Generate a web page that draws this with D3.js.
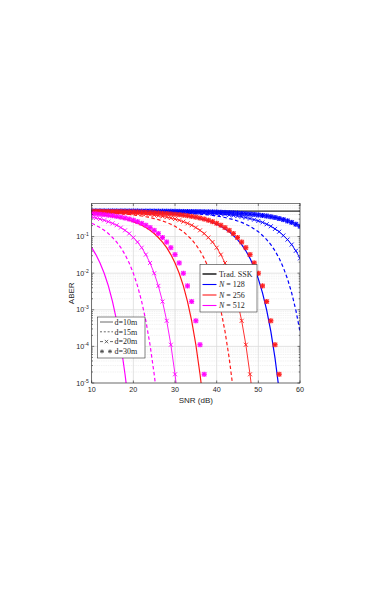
<!DOCTYPE html>
<html><head><meta charset="utf-8">
<script src="https://cdn.jsdelivr.net/npm/d3@7"></script>
<style>html,body{margin:0;padding:0;background:#fff;} svg{display:block}</style>
</head><body><svg id="c" width="382" height="599"></svg>
<script>
// ---------- data ----------
const snr = [10,11,12,13,14,15,16,17,18,19,20,21,22,23,24,25,26,27,28,29,30,31,32,33,34,35,36,37,38,39,40,41,42,43,44,45,46,47,48,49,50,51,52,53,54,55,56,57,58,59,60];
const xTicks = [10,20,30,40,50,60];
const yTicks = [1e-5,1e-4,1e-3,1e-2,1e-1];
const yTickExp = ["-5","-4","-3","-2","-1"];

const tradSnr = [10,20,30,40,50,60];
const tradAber = [0.5,0.5,0.499,0.498,0.496,0.494];

// N = 512 (magenta)
const m512_d10 = [0.0497,0.0322,0.0190,0.00995,0.00449,0.00168,5.0e-4,1.11e-4,1.73e-5,2.0e-6];
const m512_d15 = [0.230,0.204,0.176,0.148,0.121,0.0942,0.0708,0.0497,0.0322,0.0190,0.00995,0.00449,0.00168,5.0e-4,1.11e-4,1.73e-5,2.0e-6];
const m512_d20 = [0.340,0.321,0.301,0.279,0.255,0.230,0.204,0.176,0.148,0.121,0.0942,0.0708,0.0497,0.0322,0.0190,0.00995,0.00449,0.00168,5.0e-4,1.11e-4,1.73e-5,2.0e-6];
const m512_d30 = [0.424,0.415,0.407,0.396,0.384,0.371,0.356,0.340,0.321,0.301,0.279,0.255,0.230,0.204,0.176,0.148,0.121,0.0942,0.0708,0.0497,0.0322,0.0190,0.00995,0.00449,0.00168,5.0e-4,1.11e-4,1.73e-5,2.0e-6];
// N = 256 (red)
const r256_d10 = [0.415,0.407,0.396,0.384,0.371,0.356,0.340,0.321,0.301,0.279,0.255,0.230,0.204,0.176,0.148,0.121,0.0942,0.0708,0.0497,0.0322,0.0190,0.00995,0.00449,0.00168,5.0e-4,1.11e-4,1.73e-5,2.0e-6];
const r256_d15 = [0.467,0.461,0.457,0.451,0.443,0.436,0.428,0.419,0.411,0.403,0.390,0.377,0.364,0.348,0.331,0.310,0.290,0.267,0.244,0.217,0.191,0.162,0.136,0.107,0.0828,0.0604,0.0408,0.0254,0.0142,0.00697,0.00289,9.8e-4,2.56e-4,4.83e-5,6.2e-6];
const r256_d20 = [0.480,0.478,0.474,0.472,0.468,0.465,0.459,0.453,0.446,0.440,0.432,0.424,0.415,0.407,0.396,0.384,0.371,0.356,0.340,0.321,0.301,0.279,0.255,0.230,0.204,0.176,0.148,0.121,0.0942,0.0708,0.0497,0.0322,0.0190,0.00995,0.00449,0.00168,5.0e-4,1.11e-4,1.73e-5,2.0e-6];
const r256_d30 = [0.491,0.490,0.489,0.486,0.485,0.483,0.482,0.480,0.478,0.474,0.472,0.468,0.465,0.459,0.453,0.446,0.440,0.432,0.424,0.415,0.407,0.396,0.384,0.371,0.356,0.340,0.321,0.301,0.279,0.255,0.230,0.204,0.176,0.148,0.121,0.0942,0.0708,0.0497,0.0322,0.0190,0.00995,0.00449,0.00168,5.0e-4,1.11e-4,1.73e-5,2.0e-6];
// N = 128 (blue)
const b128_d10 = [0.491,0.490,0.488,0.486,0.484,0.483,0.481,0.479,0.476,0.473,0.470,0.467,0.461,0.457,0.451,0.443,0.436,0.428,0.419,0.411,0.403,0.390,0.377,0.364,0.348,0.331,0.310,0.290,0.267,0.244,0.217,0.191,0.162,0.136,0.107,0.0828,0.0604,0.0408,0.0254,0.0142,0.00697,0.00289,9.8e-4,2.56e-4,4.83e-5,6.2e-6];
const b128_d15 = [0.497,0.495,0.495,0.494,0.493,0.493,0.492,0.491,0.490,0.488,0.486,0.484,0.483,0.481,0.479,0.476,0.473,0.470,0.467,0.461,0.457,0.451,0.443,0.436,0.428,0.419,0.411,0.403,0.390,0.377,0.364,0.348,0.331,0.310,0.290,0.267,0.244,0.217,0.191,0.162,0.136,0.107,0.0828,0.0604,0.0408,0.0254,0.0142,0.00697,0.00289,9.8e-4,2.56e-4];
const b128_d20 = [0.498,0.498,0.498,0.497,0.497,0.497,0.495,0.495,0.494,0.494,0.493,0.493,0.492,0.491,0.488,0.486,0.484,0.483,0.481,0.479,0.476,0.473,0.470,0.467,0.461,0.457,0.451,0.443,0.436,0.428,0.419,0.411,0.403,0.390,0.377,0.364,0.348,0.331,0.310,0.290,0.267,0.244,0.217,0.191,0.162,0.136,0.107,0.0828,0.0604,0.0408,0.0254];
const b128_d30 = [0.499,0.499,0.499,0.499,0.498,0.498,0.498,0.498,0.498,0.497,0.497,0.497,0.495,0.495,0.495,0.494,0.493,0.493,0.492,0.491,0.490,0.488,0.486,0.484,0.483,0.481,0.479,0.476,0.473,0.470,0.467,0.461,0.457,0.451,0.443,0.436,0.428,0.419,0.411,0.403,0.390,0.377,0.364,0.348,0.331,0.310,0.290,0.267,0.244,0.217,0.191];

const legendN = ["Trad. SSK","128","256","512"];
const legendD = ["d=10m","d=15m","d=20m","d=30m"];

// ---------- build ----------
const colN = {128:"#0000ff",256:"#ff1a1a",512:"#ff00ff"};
const series = [
  {n:128,d:10,v:b128_d10},{n:128,d:15,v:b128_d15},{n:128,d:20,v:b128_d20},{n:128,d:30,v:b128_d30},
  {n:256,d:10,v:r256_d10},{n:256,d:15,v:r256_d15},{n:256,d:20,v:r256_d20},{n:256,d:30,v:r256_d30},
  {n:512,d:10,v:m512_d10},{n:512,d:15,v:m512_d15},{n:512,d:20,v:m512_d20},{n:512,d:30,v:m512_d30}
];

const L=91.7,R=300,T=203.5,B=383;
const svg = d3.select("#c");
const x = d3.scaleLinear().domain([10,60]).range([L,R]);
const y = d3.scaleLog().domain([1e-5,0.8]).range([B,T]);

svg.append("defs").append("clipPath").attr("id","pc")
  .append("rect").attr("x",L).attr("y",T).attr("width",R-L).attr("height",B-T);

// grid
const minor=[];
for(let k=-5;k<=-1;k++) for(let m=2;m<=9;m++){const v=m*Math.pow(10,k); if(v<0.8) minor.push(v);}
const g = svg.append("g");
g.selectAll(".mg").data(minor).join("line")
  .attr("x1",L).attr("x2",R).attr("y1",d=>y(d)).attr("y2",d=>y(d))
  .attr("stroke","#ececec").attr("stroke-width",0.7).attr("stroke-dasharray","1.5,0.8");
g.selectAll(".yg").data(yTicks).join("line")
  .attr("x1",L).attr("x2",R).attr("y1",d=>y(d)).attr("y2",d=>y(d))
  .attr("stroke","#dcdcdc").attr("stroke-width",0.8);
g.selectAll(".xg").data(xTicks).join("line")
  .attr("y1",T).attr("y2",B).attr("x1",d=>x(d)).attr("x2",d=>x(d))
  .attr("stroke","#dcdcdc").attr("stroke-width",0.8);

const plot = svg.append("g").attr("clip-path","url(#pc)");
const line = d3.line().x(d=>x(d[0])).y(d=>y(d[1]));

// trad SSK
plot.append("path").datum(tradSnr.map((s,i)=>[s,tradAber[i]]))
  .attr("d",line).attr("fill","none").attr("stroke","#2b2b2b").attr("stroke-width",1.2);

series.forEach(s=>{
  const pts = s.v.map((v,i)=>[snr[i],v]);
  const c = colN[s.n];
  if(s.d===10||s.d===15||s.d===20){
    plot.append("path").datum(pts).attr("d",line).attr("fill","none")
      .attr("stroke",c).attr("stroke-width",s.d===20?0.9:1.2)
      .attr("stroke-dasharray",s.d===15?"3.5,2.5":null);
  }
  if(s.d===20){
    plot.selectAll(null).data(pts.filter(p=>p[1]>=8e-6)).join("path")
      .attr("transform",p=>`translate(${x(p[0])},${y(p[1])})`)
      .attr("d","M-2,-2L2,2M-2,2L2,-2").attr("stroke",c).attr("stroke-width",0.9).attr("fill","none");
  }
  if(s.d===30){
    const gm = plot.selectAll(null).data(pts.filter(p=>p[1]>=8e-6)).join("g")
      .attr("transform",p=>`translate(${x(p[0])},${y(p[1])})`);
    gm.append("rect").attr("x",-2.4).attr("y",-2.4).attr("width",4.8).attr("height",4.8)
      .attr("fill",c).attr("fill-opacity",0.55);
    gm.append("path").attr("d","M-2.5,0H2.5M0,-2.5V2.5M-1.8,-1.8L1.8,1.8M-1.8,1.8L1.8,-1.8")
      .attr("stroke",c).attr("stroke-width",1).attr("fill","none");
  }
});

// axes box and ticks
const ax = svg.append("g").attr("stroke","#262626").attr("stroke-width",0.6);
ax.append("rect").attr("x",L).attr("y",T).attr("width",R-L).attr("height",B-T).attr("fill","none");
ax.selectAll(".xt").data(xTicks).join("path")
  .attr("d",d=>`M${x(d)},${B}v-2.5M${x(d)},${T}v2.5`);
ax.selectAll(".yt").data(yTicks).join("path")
  .attr("d",d=>`M${L},${y(d)}h2.5M${R},${y(d)}h-2.5`);
ax.selectAll(".ymt").data(minor).join("path")
  .attr("d",d=>`M${L},${y(d)}h1.3M${R},${y(d)}h-1.3`);

const lab = svg.append("g").attr("font-family","'Liberation Sans',Arial,sans-serif").attr("fill","#262626");
lab.selectAll(".xl").data(xTicks).join("text")
  .attr("x",d=>x(d)).attr("y",B+9).attr("text-anchor","middle").attr("font-size",7.2).text(d=>d);
const yl = lab.selectAll(".yl").data(yTicks).join("text")
  .attr("x",L-3).attr("y",d=>y(d)+2.6).attr("text-anchor","end").attr("font-size",7.2);
yl.append("tspan").text("10");
yl.append("tspan").attr("dy",-3).attr("font-size",5).text((d,i)=>yTickExp[i]);
lab.append("text").attr("x",(L+R)/2).attr("y",B+20).attr("text-anchor","middle").attr("font-size",8).text("SNR (dB)");
lab.append("text").attr("transform",`translate(74,${(T+B)/2}) rotate(-90)`).attr("text-anchor","middle").attr("font-size",8).text("ABER");

// legend N
const serif = "'Liberation Serif','Times New Roman',serif";
const l1 = svg.append("g").attr("font-family",serif).attr("font-size",8).attr("fill","#262626");
l1.append("rect").attr("x",200).attr("y",264.5).attr("width",57).attr("height",47.5)
  .attr("fill","#fff").attr("stroke","#333").attr("stroke-width",0.6);
const l1c = ["#555555",colN[128],colN[256],colN[512]];
legendN.forEach((t,i)=>{
  const yy = 274 + i*10.5;
  l1.append("line").attr("x1",202.5).attr("x2",216.5).attr("y1",yy).attr("y2",yy)
    .attr("stroke",l1c[i]).attr("stroke-width",i===0?2:1.1);
  const tx = l1.append("text").attr("x",219).attr("y",yy+2.8);
  if(i===0) tx.text(t);
  else { tx.append("tspan").attr("font-style","italic").text("N"); tx.append("tspan").text(" = "+t); }
});

// legend d
const l2 = svg.append("g").attr("font-family",serif).attr("font-size",8).attr("fill","#262626");
l2.append("rect").attr("x",97.5).attr("y",317).attr("width",47.5).attr("height",41)
  .attr("fill","#fff").attr("stroke","#333").attr("stroke-width",0.6);
const gc = "#444";
legendD.forEach((t,i)=>{
  const yy = 322 + i*9.8;
  if(i===0) l2.append("line").attr("x1",100).attr("x2",113).attr("y1",yy).attr("y2",yy).attr("stroke",gc).attr("stroke-width",0.8);
  if(i===1) l2.append("line").attr("x1",100).attr("x2",113).attr("y1",yy).attr("y2",yy).attr("stroke",gc).attr("stroke-width",0.8).attr("stroke-dasharray","2,1.8");
  if(i===2){
    l2.append("path").attr("d",`M100,${yy}h3M110,${yy}h3M104.8,${yy-1.7}l3.4,3.4M104.8,${yy+1.7}l3.4,-3.4`).attr("stroke",gc).attr("stroke-width",0.8).attr("fill","none");
  }
  if(i===3){
    [102,110].forEach(cx=>l2.append("path").attr("d",`M${cx-2},${yy}h4M${cx},${yy-2}v4M${cx-1.5},${yy-1.5}l3,3M${cx-1.5},${yy+1.5}l3,-3`).attr("stroke",gc).attr("stroke-width",0.8));
  }
  l2.append("text").attr("x",114.5).attr("y",yy+2.8).text(t);
});
</script></body></html>
